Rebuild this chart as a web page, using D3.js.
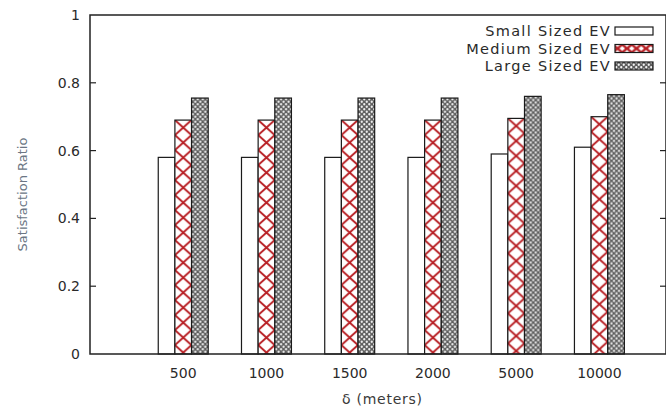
<!DOCTYPE html>
<html>
<head>
<meta charset="utf-8">
<script src="https://cdn.jsdelivr.net/npm/d3@7"></script>
<style>
  body { margin: 0; background: #fff; }
  text { font-family: "DejaVu Sans", sans-serif; }
</style>
</head>
<body>
<svg id="chart"></svg>
<script>
var categories = ["500", "1000", "1500", "2000", "5000", "10000"];
var seriesNames = ["Small Sized EV", "Medium Sized EV", "Large Sized EV"];
var smallEV  = [0.58, 0.58, 0.58, 0.58, 0.59, 0.61];
var mediumEV = [0.69, 0.69, 0.69, 0.69, 0.695, 0.70];
var largeEV  = [0.755, 0.755, 0.755, 0.755, 0.76, 0.765];
var yTicks = [0, 0.2, 0.4, 0.6, 0.8, 1];

var w = 666, h = 410;
var pLeft = 90, pRight = 666, pTop = 15, pBottom = 354;

var svg = d3.select("#chart").attr("width", w).attr("height", h);
var defs = svg.append("defs");

// red cross pattern for medium bars
var pm = defs.append("pattern").attr("id", "pMed")
  .attr("patternUnits", "userSpaceOnUse").attr("width", 16.6).attr("height", 15);
pm.append("rect").attr("width", 16.6).attr("height", 15).attr("fill", "#fff");
pm.append("path").attr("d", "M0,0L16.6,15M16.6,0L0,15")
  .attr("stroke", "#b81f24").attr("stroke-width", 2).attr("fill", "none");

// small legend version
var pml = defs.append("pattern").attr("id", "pMedL")
  .attr("patternUnits", "userSpaceOnUse").attr("width", 9.5).attr("height", 8);
pml.append("rect").attr("width", 9.5).attr("height", 8).attr("fill", "#fff");
pml.append("path").attr("d", "M0,0L9.5,8M9.5,0L0,8")
  .attr("stroke", "#b81f24").attr("stroke-width", 2.4).attr("fill", "none");

// fine checker for large bars
var pl = defs.append("pattern").attr("id", "pLarge")
  .attr("patternUnits", "userSpaceOnUse").attr("width", 5).attr("height", 5);
pl.append("rect").attr("width", 5).attr("height", 5).attr("fill", "#5e5e5e");
pl.append("circle").attr("cx", 1.25).attr("cy", 1.25).attr("r", 1.15).attr("fill", "#f4f4f4");
pl.append("circle").attr("cx", 3.75).attr("cy", 3.75).attr("r", 1.15).attr("fill", "#f4f4f4");

var x = d3.scaleLinear().domain([-1.12, 5.8]).range([pLeft, pRight]);
var y = d3.scaleLinear().domain([0, 1]).range([pBottom, pTop]);
var bw = x(0.2) - x(0);

var series = [
  { name: seriesNames[0], values: smallEV,  fill: "#fff" },
  { name: seriesNames[1], values: mediumEV, fill: "url(#pMed)" },
  { name: seriesNames[2], values: largeEV,  fill: "url(#pLarge)" }
];

// bars
series.forEach(function(s, si) {
  svg.append("g").selectAll("g").data(s.values).enter().append("g")
    .attr("transform", function(d, i) {
      return "translate(" + (x(i) + (si - 1.5) * bw) + "," + y(d) + ")";
    })
    .append("rect")
    .attr("width", bw).attr("height", function(d) { return pBottom - y(d); })
    .attr("fill", s.fill).attr("stroke", "#1a1a1a").attr("stroke-width", 1.2);
});

// frame
svg.append("path")
  .attr("d", "M" + pRight + "," + pTop + "H" + pLeft + "V" + pBottom + "H" + pRight + "V" + pTop)
  .attr("fill", "none").attr("stroke", "#222").attr("stroke-width", 1.5);

// y ticks left and right
svg.append("g").selectAll("line").data(yTicks.slice(1, -1)).enter().append("line")
  .attr("x1", pLeft).attr("x2", pLeft + 6)
  .attr("y1", function(d) { return y(d); }).attr("y2", function(d) { return y(d); })
  .attr("stroke", "#222").attr("stroke-width", 1.2);
svg.append("g").selectAll("line").data(yTicks.slice(1, -1)).enter().append("line")
  .attr("x1", pRight - 6).attr("x2", pRight)
  .attr("y1", function(d) { return y(d); }).attr("y2", function(d) { return y(d); })
  .attr("stroke", "#222").attr("stroke-width", 1.2);

svg.append("g").selectAll("text").data(yTicks).enter().append("text")
  .attr("x", 80).attr("y", function(d) { return y(d) + 5; })
  .attr("text-anchor", "end").attr("font-size", 14).attr("fill", "#2a2a2a")
  .text(function(d) { return d3.format("~g")(d); });

svg.append("g").selectAll("text").data(categories).enter().append("text")
  .attr("x", function(d, i) { return x(i); }).attr("y", 378)
  .attr("text-anchor", "middle").attr("font-size", 14).attr("fill", "#2a2a2a")
  .text(function(d) { return d; });

svg.append("text").attr("x", 382).attr("y", 404)
  .attr("text-anchor", "middle").attr("font-size", 14).attr("fill", "#3a3a3a")
  .attr("textLength", 80).text("δ (meters)");

svg.append("text")
  .attr("transform", "translate(27," + ((pTop + pBottom) / 2 + 10) + ") rotate(-90)")
  .attr("text-anchor", "middle").attr("font-size", 13).attr("fill", "#6b7684")
  .text("Satisfaction Ratio");

// legend
var legFill = ["#fff", "url(#pMedL)", "url(#pLarge)"];
var leg = svg.append("g").selectAll("g").data(series).enter().append("g")
  .attr("transform", function(d, i) { return "translate(0," + (31 + i * 17.5) + ")"; });
leg.append("text").attr("x", 611).attr("y", 5)
  .attr("text-anchor", "end").attr("font-size", 14.5).attr("fill", "#2a2a2a")
  .attr("letter-spacing", 1.3)
  .text(function(d) { return d.name; });
leg.append("rect").attr("x", 615).attr("y", -4).attr("width", 38).attr("height", 8)
  .attr("fill", function(d, i) { return legFill[i]; })
  .attr("stroke", "#1a1a1a").attr("stroke-width", 1.2);
</script>
</body>
</html>
